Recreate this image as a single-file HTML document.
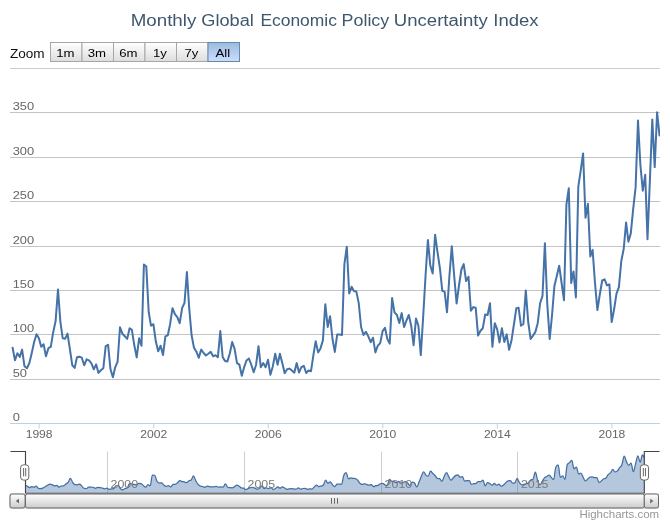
<!DOCTYPE html>
<html><head><meta charset="utf-8"><title>Monthly Global Economic Policy Uncertainty Index</title>
<style>html,body{margin:0;padding:0;background:#fff;}svg{display:block;will-change:transform;}</style></head>
<body>
<svg width="670" height="523" viewBox="0 0 670 523" font-family="Liberation Sans, sans-serif">
<defs>
<linearGradient id="gb" x1="0" y1="0" x2="0" y2="1"><stop offset="0" stop-color="#FFF"/><stop offset="1" stop-color="#DDD"/></linearGradient>
<linearGradient id="gs" x1="0" y1="0" x2="0" y2="1"><stop offset="0" stop-color="#9BD"/><stop offset="1" stop-color="#CDF"/></linearGradient>
<linearGradient id="gsb" x1="0" y1="0" x2="0" y2="1"><stop offset="0" stop-color="#FFF"/><stop offset="1" stop-color="#CCC"/></linearGradient>
<linearGradient id="gtr" x1="0" y1="0" x2="0" y2="1"><stop offset="0" stop-color="#EEE"/><stop offset="0.7" stop-color="#FFF"/></linearGradient>
<clipPath id="cp"><rect x="10" y="60" width="650" height="364"/></clipPath>
</defs>
<rect width="670" height="523" fill="#FFFFFF"/>
<path d="M10 68.5H660" stroke="#CDCDCD" stroke-width="1" fill="none"/>
<path d="M10 112.5H660" stroke="#C4C4C4" stroke-width="1" fill="none"/>
<path d="M10 157.5H660" stroke="#C4C4C4" stroke-width="1" fill="none"/>
<path d="M10 201.5H660" stroke="#C4C4C4" stroke-width="1" fill="none"/>
<path d="M10 246.5H660" stroke="#C4C4C4" stroke-width="1" fill="none"/>
<path d="M10 290.5H660" stroke="#C4C4C4" stroke-width="1" fill="none"/>
<path d="M10 334.5H660" stroke="#C4C4C4" stroke-width="1" fill="none"/>
<path d="M10 379.5H660" stroke="#C4C4C4" stroke-width="1" fill="none"/>
<path d="M10 423.5H660" stroke="#C0D0E0" stroke-width="1" fill="none"/>
<path d="M39.1 423.5V428.5" stroke="#C0D0E0" stroke-width="1" fill="none"/>
<text transform="translate(39.10,437.70) scale(1.1,1)" font-size="11" fill="#666" text-anchor="middle" >1998</text>
<path d="M153.7 423.5V428.5" stroke="#C0D0E0" stroke-width="1" fill="none"/>
<text transform="translate(153.66,437.70) scale(1.1,1)" font-size="11" fill="#666" text-anchor="middle" >2002</text>
<path d="M268.2 423.5V428.5" stroke="#C0D0E0" stroke-width="1" fill="none"/>
<text transform="translate(268.22,437.70) scale(1.1,1)" font-size="11" fill="#666" text-anchor="middle" >2006</text>
<path d="M382.8 423.5V428.5" stroke="#C0D0E0" stroke-width="1" fill="none"/>
<text transform="translate(382.78,437.70) scale(1.1,1)" font-size="11" fill="#666" text-anchor="middle" >2010</text>
<path d="M497.3 423.5V428.5" stroke="#C0D0E0" stroke-width="1" fill="none"/>
<text transform="translate(497.34,437.70) scale(1.1,1)" font-size="11" fill="#666" text-anchor="middle" >2014</text>
<path d="M611.9 423.5V428.5" stroke="#C0D0E0" stroke-width="1" fill="none"/>
<text transform="translate(611.90,437.70) scale(1.1,1)" font-size="11" fill="#666" text-anchor="middle" >2018</text>
<text transform="translate(12.70,110.20) scale(1.17,1)" font-size="11" fill="#666" text-anchor="start" >350</text>
<text transform="translate(12.70,155.20) scale(1.17,1)" font-size="11" fill="#666" text-anchor="start" >300</text>
<text transform="translate(12.70,199.20) scale(1.17,1)" font-size="11" fill="#666" text-anchor="start" >250</text>
<text transform="translate(12.70,244.20) scale(1.17,1)" font-size="11" fill="#666" text-anchor="start" >200</text>
<text transform="translate(12.70,288.20) scale(1.17,1)" font-size="11" fill="#666" text-anchor="start" >150</text>
<text transform="translate(12.70,332.20) scale(1.17,1)" font-size="11" fill="#666" text-anchor="start" >100</text>
<text transform="translate(12.70,377.20) scale(1.17,1)" font-size="11" fill="#666" text-anchor="start" >50</text>
<text transform="translate(12.70,421.20) scale(1.17,1)" font-size="11" fill="#666" text-anchor="start" >0</text>
<polyline points="12.6,347.8 15.0,360.3 17.4,353.2 19.8,356.9 22.1,349.6 24.5,366.3 26.9,368.3 29.3,363.3 31.7,353.2 34.1,342.2 36.5,334.2 38.9,338.2 41.2,346.8 43.6,344.2 46.0,356.2 48.4,348.2 50.8,346.8 53.2,332.2 55.6,321.1 58.0,289.4 60.3,321.1 62.7,338.2 65.1,338.8 67.5,333.6 69.9,349.2 72.3,365.3 74.7,367.9 77.0,357.3 79.4,356.7 81.8,357.7 84.2,365.3 86.6,359.3 89.0,360.3 91.4,363.3 93.8,369.3 96.1,364.3 98.5,372.9 100.9,370.3 103.3,368.3 105.7,346.2 108.1,344.8 110.5,369.3 112.9,377.3 115.2,367.3 117.6,361.6 120.0,327.3 122.4,333.7 124.8,336.3 127.2,338.9 129.6,328.3 131.9,329.9 134.3,345.3 136.7,357.4 139.1,338.3 141.5,345.7 143.9,264.6 146.3,266.6 148.7,312.2 151.0,325.7 153.4,324.2 155.8,341.3 158.2,351.3 160.6,345.7 163.0,355.0 165.4,336.3 167.8,335.3 170.1,324.2 172.5,308.2 174.9,314.2 177.3,317.2 179.7,323.2 182.1,308.2 184.5,302.8 186.9,272.1 189.2,308.2 191.6,335.3 194.0,347.7 196.4,351.7 198.8,357.8 201.2,349.6 203.6,353.0 205.9,355.5 208.3,353.8 210.7,351.8 213.1,356.3 215.5,355.2 217.9,357.2 220.3,331.1 222.7,357.2 225.0,360.9 227.4,361.4 229.8,353.5 232.2,342.0 234.6,348.8 237.0,363.1 239.4,364.7 241.8,375.7 244.1,367.3 246.5,360.5 248.9,358.5 251.3,364.7 253.7,372.3 256.1,364.7 258.5,346.2 260.8,367.3 263.2,363.1 265.6,367.3 268.0,359.7 270.4,374.8 272.8,366.4 275.2,353.8 277.6,364.7 279.9,353.8 282.3,363.1 284.7,373.2 287.1,369.3 289.5,368.6 291.9,370.6 294.3,372.7 296.7,363.1 299.0,372.5 301.4,367.1 303.8,365.8 306.2,373.0 308.6,370.4 311.0,371.2 313.4,355.1 315.7,341.2 318.1,352.4 320.5,348.4 322.9,340.4 325.3,304.2 327.7,327.0 330.1,316.3 332.5,339.0 334.8,351.9 337.2,334.5 339.6,334.5 342.0,335.0 344.4,264.1 346.8,246.7 349.2,293.5 351.6,286.8 353.9,290.9 356.3,291.4 358.7,302.9 361.1,327.0 363.5,335.0 365.9,331.8 368.3,336.4 370.7,342.2 373.0,337.7 375.4,352.4 377.8,345.7 380.2,343.1 382.6,331.1 385.0,327.8 387.4,339.1 389.7,343.6 392.1,298.1 394.5,312.3 396.9,315.0 399.3,323.0 401.7,313.1 404.1,327.0 406.5,320.3 408.8,315.0 411.2,325.7 413.6,345.2 416.0,318.5 418.4,325.7 420.8,355.1 423.2,316.3 425.6,274.8 427.9,240.0 430.3,265.5 432.7,273.5 435.1,234.7 437.5,252.1 439.9,268.1 442.3,290.9 444.6,291.7 447.0,312.3 449.4,276.2 451.8,246.2 454.2,276.2 456.6,303.5 459.0,285.5 461.4,269.5 463.7,264.1 466.1,281.0 468.5,276.7 470.9,310.8 473.3,307.1 475.7,307.8 478.1,335.6 480.5,330.7 482.8,328.2 485.2,314.5 487.6,315.0 490.0,303.3 492.4,346.8 494.8,323.2 497.2,329.4 499.5,342.4 501.9,328.2 504.3,341.9 506.7,334.4 509.1,349.8 511.5,340.6 513.9,324.5 516.3,308.3 518.6,307.8 521.0,325.7 523.4,324.0 525.8,290.4 528.2,322.0 530.6,338.9 533.0,335.6 535.4,331.9 537.7,323.2 540.1,303.3 542.5,295.9 544.9,243.2 547.3,304.6 549.7,338.9 552.1,314.5 554.4,285.9 556.8,276.0 559.2,265.7 561.6,283.0 564.0,300.2 566.4,204.7 568.8,188.2 571.2,283.0 573.5,271.4 575.9,297.4 578.3,186.6 580.7,170.7 583.1,153.4 585.5,217.8 587.9,203.8 590.3,256.5 592.6,249.9 595.0,283.0 597.4,310.1 599.8,294.5 602.2,280.5 604.6,279.3 607.0,285.4 609.4,284.3 611.7,322.1 614.1,309.3 616.5,293.6 618.9,287.1 621.3,261.0 623.7,249.0 626.1,222.4 628.4,241.7 630.8,233.4 633.2,208.8 635.6,187.4 638.0,120.6 640.4,165.0 642.8,190.7 645.2,174.8 647.5,239.2 649.9,180.0 652.3,119.4 654.7,167.1 657.1,112.3 659.5,135.4" fill="none" stroke="#4572A7" stroke-width="2" stroke-linejoin="round" stroke-linecap="round" clip-path="url(#cp)"/>
<text x="130.7" y="26.0" font-size="16" fill="#3E576F" textLength="65.6" lengthAdjust="spacingAndGlyphs">Monthly</text>
<text x="201.3" y="26.0" font-size="16" fill="#3E576F" textLength="52.5" lengthAdjust="spacingAndGlyphs">Global</text>
<text x="260.4" y="26.0" font-size="16" fill="#3E576F" textLength="76.5" lengthAdjust="spacingAndGlyphs">Economic</text>
<text x="341.6" y="26.0" font-size="16" fill="#3E576F" textLength="47.6" lengthAdjust="spacingAndGlyphs">Policy</text>
<text x="393.8" y="26.0" font-size="16" fill="#3E576F" textLength="93.9" lengthAdjust="spacingAndGlyphs">Uncertainty</text>
<text x="493.3" y="26.0" font-size="16" fill="#3E576F" textLength="45.3" lengthAdjust="spacingAndGlyphs">Index</text>
<text transform="translate(10.00,58.00) scale(1.13,1)" font-size="12" fill="#111" text-anchor="start" >Zoom</text>
<rect x="50.5" y="42.5" width="31.5" height="19" fill="url(#gb)" stroke="#A6A6A6" stroke-width="1"/>
<text transform="translate(65.35,56.70) scale(1.2,1)" font-size="11" fill="#000" text-anchor="middle" >1m</text>
<rect x="82.0" y="42.5" width="31.5" height="19" fill="url(#gb)" stroke="#A6A6A6" stroke-width="1"/>
<text transform="translate(96.85,56.70) scale(1.2,1)" font-size="11" fill="#000" text-anchor="middle" >3m</text>
<rect x="113.5" y="42.5" width="31.5" height="19" fill="url(#gb)" stroke="#A6A6A6" stroke-width="1"/>
<text transform="translate(128.35,56.70) scale(1.2,1)" font-size="11" fill="#000" text-anchor="middle" >6m</text>
<rect x="145.0" y="42.5" width="31.5" height="19" fill="url(#gb)" stroke="#A6A6A6" stroke-width="1"/>
<text transform="translate(159.85,56.70) scale(1.2,1)" font-size="11" fill="#000" text-anchor="middle" >1y</text>
<rect x="176.5" y="42.5" width="31.5" height="19" fill="url(#gb)" stroke="#A6A6A6" stroke-width="1"/>
<text transform="translate(191.35,56.70) scale(1.2,1)" font-size="11" fill="#000" text-anchor="middle" >7y</text>
<rect x="208.0" y="42.5" width="31.5" height="19" fill="url(#gs)" stroke="#68A" stroke-width="1"/>
<text transform="translate(222.85,56.70) scale(1.2,1)" font-size="11" fill="#000" text-anchor="middle" >All</text>
<path d="M107.5 451.5V493.4" stroke="#CFCFCF" stroke-width="1" fill="none"/>
<path d="M244.5 451.5V493.4" stroke="#CFCFCF" stroke-width="1" fill="none"/>
<path d="M381.5 451.5V493.4" stroke="#CFCFCF" stroke-width="1" fill="none"/>
<path d="M517.5 451.5V493.4" stroke="#CFCFCF" stroke-width="1" fill="none"/>
<path d="M25.90 493.4 L25.90 485.66 C25.90 485.66 26.62 485.69 27.10 485.96 C28.01 486.47 28.47 487.60 29.38 487.60 C30.29 487.60 30.75 486.67 31.66 486.67 C32.57 486.67 33.03 487.15 33.94 487.15 C34.85 487.15 35.30 486.20 36.22 486.20 C37.13 486.20 37.58 488.13 38.50 488.39 C39.41 488.66 39.86 488.66 40.77 488.66 C41.69 488.66 42.14 488.39 43.05 487.99 C43.96 487.60 44.42 487.23 45.33 486.67 C46.24 486.12 46.70 485.72 47.61 485.22 C48.52 484.72 48.98 484.16 49.89 484.16 C50.80 484.16 51.26 484.36 52.17 484.69 C53.08 485.02 53.54 485.83 54.45 485.83 C55.36 485.83 55.82 485.48 56.73 485.48 C57.64 485.48 58.09 487.07 59.01 487.07 C59.92 487.07 60.37 486.20 61.29 486.01 C62.20 485.83 62.65 486.01 63.56 485.83 C64.48 485.64 64.93 484.58 65.84 483.90 C66.75 483.22 67.21 483.57 68.12 482.44 C69.03 481.32 69.49 478.27 70.40 478.27 C71.31 478.27 71.77 481.16 72.68 482.44 C73.59 483.73 74.05 484.61 74.96 484.69 C75.87 484.77 76.33 484.77 77.24 484.77 C78.15 484.77 78.61 484.08 79.52 484.08 C80.43 484.08 80.88 485.31 81.80 486.14 C82.71 486.98 83.16 487.92 84.07 488.26 C84.99 488.60 85.44 488.60 86.35 488.60 C87.27 488.60 87.72 487.28 88.63 487.20 C89.54 487.12 90.00 487.12 90.91 487.12 C91.82 487.12 92.28 487.12 93.19 487.25 C94.10 487.39 94.56 488.26 95.47 488.26 C96.38 488.26 96.84 487.47 97.75 487.47 C98.66 487.47 99.12 487.49 100.03 487.60 C100.94 487.70 101.40 487.76 102.31 487.99 C103.22 488.23 103.67 488.79 104.59 488.79 C105.50 488.79 105.95 488.13 106.87 488.13 C107.78 488.13 108.23 489.26 109.14 489.26 C110.06 489.26 110.51 489.04 111.42 488.92 C112.33 488.80 112.79 488.92 113.70 488.66 C114.61 488.39 115.07 485.93 115.98 485.75 C116.89 485.56 117.35 485.56 118.26 485.56 C119.17 485.56 119.63 487.93 120.54 488.79 C121.45 489.64 121.91 489.85 122.82 489.85 C123.73 489.85 124.19 488.94 125.10 488.52 C126.01 488.11 126.46 488.52 127.38 487.77 C128.29 487.02 128.74 483.25 129.66 483.25 C130.57 483.25 131.02 483.86 131.93 484.10 C132.85 484.34 133.30 484.30 134.21 484.44 C135.12 484.58 135.58 484.79 136.49 484.79 C137.40 484.79 137.86 483.39 138.77 483.39 C139.68 483.39 140.14 483.39 141.05 483.60 C141.96 483.81 142.42 484.91 143.33 485.63 C144.24 486.36 144.70 487.22 145.61 487.22 C146.52 487.22 146.98 484.71 147.89 484.71 C148.80 484.71 149.25 485.68 150.17 485.68 C151.08 485.68 151.53 475.01 152.44 475.01 C153.36 475.01 153.81 475.01 154.72 475.27 C155.64 475.54 156.09 479.72 157.00 481.27 C157.91 482.82 158.37 483.04 159.28 483.04 C160.19 483.04 160.65 482.86 161.56 482.86 C162.47 482.86 162.93 484.39 163.84 485.10 C164.75 485.82 165.21 486.42 166.12 486.42 C167.03 486.42 167.49 485.68 168.40 485.68 C169.31 485.68 169.77 486.90 170.68 486.90 C171.59 486.90 172.04 484.57 172.96 484.44 C173.87 484.31 174.32 484.44 175.23 484.31 C176.15 484.18 176.60 483.57 177.51 482.86 C178.43 482.14 178.88 480.74 179.79 480.74 C180.70 480.74 181.16 481.30 182.07 481.53 C182.98 481.77 183.44 481.69 184.35 481.93 C185.26 482.17 185.72 482.72 186.63 482.72 C187.54 482.72 188.00 481.28 188.91 480.74 C189.82 480.20 190.28 480.74 191.19 480.03 C192.10 479.31 192.56 475.98 193.47 475.98 C194.38 475.98 194.83 479.08 195.75 480.74 C196.66 482.41 197.11 483.27 198.02 484.31 C198.94 485.35 199.39 485.52 200.30 485.95 C201.22 486.38 201.67 486.21 202.58 486.48 C203.49 486.74 203.95 487.27 204.86 487.27 C205.77 487.27 206.23 486.20 207.14 486.20 C208.05 486.20 208.51 486.48 209.42 486.64 C210.33 486.79 210.79 486.97 211.70 486.97 C212.61 486.97 213.07 486.85 213.98 486.75 C214.89 486.65 215.35 486.48 216.26 486.48 C217.17 486.48 217.62 487.08 218.54 487.08 C219.45 487.08 219.90 486.93 220.81 486.93 C221.73 486.93 222.18 487.19 223.09 487.19 C224.01 487.19 224.46 483.76 225.37 483.76 C226.28 483.76 226.74 486.71 227.65 487.19 C228.56 487.68 229.02 487.61 229.93 487.68 C230.84 487.75 231.30 487.75 232.21 487.75 C233.12 487.75 233.58 487.21 234.49 486.71 C235.40 486.20 235.86 485.20 236.77 485.20 C237.68 485.20 238.14 485.53 239.05 486.09 C239.96 486.64 240.41 487.75 241.33 487.97 C242.24 488.19 242.69 487.97 243.60 488.19 C244.52 488.41 244.97 489.63 245.88 489.63 C246.80 489.63 247.25 488.92 248.16 488.52 C249.07 488.12 249.53 487.87 250.44 487.64 C251.35 487.41 251.81 487.37 252.72 487.37 C253.63 487.37 254.09 487.83 255.00 488.19 C255.91 488.55 256.37 489.19 257.28 489.19 C258.19 489.19 258.65 488.88 259.56 488.19 C260.47 487.50 260.93 485.75 261.84 485.75 C262.75 485.75 263.20 488.52 264.12 488.52 C265.03 488.52 265.48 487.97 266.39 487.97 C267.31 487.97 267.76 488.52 268.67 488.52 C269.59 488.52 270.04 487.52 270.95 487.52 C271.86 487.52 272.32 489.52 273.23 489.52 C274.14 489.52 274.60 488.96 275.51 488.41 C276.42 487.86 276.88 486.75 277.79 486.75 C278.70 486.75 279.16 488.19 280.07 488.19 C280.98 488.19 281.44 486.75 282.35 486.75 C283.26 486.75 283.72 487.46 284.63 487.97 C285.54 488.48 285.99 489.30 286.91 489.30 C287.82 489.30 288.27 488.88 289.19 488.79 C290.10 488.70 290.55 488.70 291.46 488.70 C292.38 488.70 292.83 488.86 293.74 488.96 C294.65 489.07 295.11 489.23 296.02 489.23 C296.93 489.23 297.39 487.98 298.30 487.98 C299.21 487.98 299.67 489.21 300.58 489.21 C301.49 489.21 301.95 488.68 302.86 488.50 C303.77 488.33 304.23 488.33 305.14 488.33 C306.05 488.33 306.51 489.28 307.42 489.28 C308.33 489.28 308.78 488.93 309.70 488.93 C310.61 488.93 311.06 489.03 311.98 489.03 C312.89 489.03 313.34 487.71 314.25 486.92 C315.17 486.13 315.62 485.09 316.53 485.09 C317.44 485.09 317.90 486.57 318.81 486.57 C319.72 486.57 320.18 486.35 321.09 486.04 C322.00 485.72 322.46 486.04 323.37 484.98 C324.28 483.92 324.74 480.22 325.65 480.22 C326.56 480.22 327.02 483.22 327.93 483.22 C328.84 483.22 329.30 481.81 330.21 481.81 C331.12 481.81 331.57 483.87 332.49 484.80 C333.40 485.74 333.85 486.50 334.76 486.50 C335.68 486.50 336.13 484.20 337.04 484.20 C337.96 484.20 338.41 484.20 339.32 484.20 C340.23 484.20 340.69 484.27 341.60 484.27 C342.51 484.27 342.97 477.23 343.88 474.94 C344.79 472.64 345.25 472.64 346.16 472.64 C347.07 472.64 347.53 478.81 348.44 478.81 C349.35 478.81 349.81 477.93 350.72 477.93 C351.63 477.93 352.09 478.39 353.00 478.46 C353.91 478.53 354.36 478.46 355.28 478.53 C356.19 478.60 356.64 479.11 357.56 480.05 C358.47 480.98 358.92 482.37 359.83 483.22 C360.75 484.06 361.20 484.27 362.11 484.27 C363.02 484.27 363.48 483.85 364.39 483.85 C365.30 483.85 365.76 484.18 366.67 484.45 C367.58 484.73 368.04 485.23 368.95 485.23 C369.86 485.23 370.32 484.63 371.23 484.63 C372.14 484.63 372.60 486.57 373.51 486.57 C374.42 486.57 374.88 485.93 375.79 485.68 C376.70 485.44 377.15 485.68 378.07 485.34 C378.98 484.99 379.43 484.15 380.35 483.75 C381.26 483.35 381.71 483.33 382.62 483.33 C383.54 483.33 383.99 484.39 384.90 484.81 C385.81 485.23 386.27 485.41 387.18 485.41 C388.09 485.41 388.55 479.42 389.46 479.42 C390.37 479.42 390.83 480.93 391.74 481.29 C392.65 481.64 393.11 481.36 394.02 481.64 C394.93 481.92 395.39 482.69 396.30 482.69 C397.21 482.69 397.67 481.39 398.58 481.39 C399.49 481.39 399.94 483.22 400.86 483.22 C401.77 483.22 402.22 482.66 403.13 482.34 C404.05 482.03 404.50 481.64 405.41 481.64 C406.33 481.64 406.78 482.25 407.69 483.05 C408.60 483.84 409.06 485.62 409.97 485.62 C410.88 485.62 411.34 482.10 412.25 482.10 C413.16 482.10 413.62 482.10 414.53 483.05 C415.44 484.00 415.90 486.92 416.81 486.92 C417.72 486.92 418.18 483.93 419.09 481.81 C420.00 479.70 420.46 478.36 421.37 476.35 C422.28 474.34 422.73 471.77 423.65 471.77 C424.56 471.77 425.01 474.24 425.93 475.12 C426.84 476.00 427.29 476.17 428.20 476.17 C429.12 476.17 429.57 471.06 430.48 471.06 C431.39 471.06 431.85 472.47 432.76 473.36 C433.67 474.24 434.13 474.45 435.04 475.47 C435.95 476.49 436.41 478.36 437.32 478.47 C438.23 478.57 438.69 478.47 439.60 478.57 C440.51 478.68 440.97 481.29 441.88 481.29 C442.79 481.29 443.25 478.27 444.16 476.53 C445.07 474.79 445.52 472.58 446.44 472.58 C447.35 472.58 447.80 475.02 448.72 476.53 C449.63 478.04 450.08 480.12 450.99 480.12 C451.91 480.12 452.36 478.66 453.27 477.76 C454.18 476.87 454.64 476.21 455.55 475.65 C456.46 475.08 456.92 474.94 457.83 474.94 C458.74 474.94 459.20 477.16 460.11 477.16 C461.02 477.16 461.48 476.60 462.39 476.60 C463.30 476.60 463.76 481.08 464.67 481.08 C465.58 481.08 466.04 480.59 466.95 480.59 C467.86 480.59 468.31 480.59 469.23 480.69 C470.14 480.79 470.59 484.36 471.50 484.36 C472.42 484.36 472.87 483.90 473.78 483.70 C474.70 483.51 475.15 483.70 476.06 483.37 C476.97 483.05 477.43 481.57 478.34 481.57 C479.25 481.57 479.71 481.64 480.62 481.64 C481.53 481.64 481.99 480.10 482.90 480.10 C483.81 480.10 484.27 485.83 485.18 485.83 C486.09 485.83 486.55 482.72 487.46 482.72 C488.37 482.72 488.83 483.03 489.74 483.54 C490.65 484.04 491.10 485.24 492.02 485.24 C492.93 485.24 493.38 483.37 494.30 483.37 C495.21 483.37 495.66 485.17 496.57 485.17 C497.49 485.17 497.94 484.19 498.85 484.19 C499.76 484.19 500.22 486.22 501.13 486.22 C502.04 486.22 502.50 485.68 503.41 485.01 C504.32 484.34 504.78 483.73 505.69 482.88 C506.60 482.03 507.06 480.82 507.97 480.76 C508.88 480.69 509.34 480.69 510.25 480.69 C511.16 480.69 511.62 483.05 512.53 483.05 C513.44 483.05 513.89 483.05 514.81 482.82 C515.72 482.59 516.17 478.40 517.08 478.40 C518.00 478.40 518.45 481.28 519.36 482.56 C520.28 483.83 520.73 484.78 521.64 484.78 C522.55 484.78 523.01 484.54 523.92 484.36 C524.83 484.17 525.29 484.19 526.20 483.87 C527.11 483.54 527.57 483.47 528.48 482.72 C529.39 481.97 529.85 480.82 530.76 480.10 C531.67 479.38 532.13 480.10 533.04 479.12 C533.95 478.14 534.41 472.18 535.32 472.18 C536.23 472.18 536.68 477.75 537.60 480.27 C538.51 482.79 538.96 484.78 539.88 484.78 C540.79 484.78 541.24 482.97 542.15 481.57 C543.07 480.18 543.52 478.83 544.43 477.81 C545.34 476.80 545.80 477.03 546.71 476.50 C547.62 475.97 548.08 475.15 548.99 475.15 C549.90 475.15 550.36 476.52 551.27 477.43 C552.18 478.33 552.64 479.69 553.55 479.69 C554.46 479.69 554.92 469.29 555.83 467.12 C556.74 464.94 557.20 464.94 558.11 464.94 C559.02 464.94 559.47 477.43 560.39 477.43 C561.30 477.43 561.75 475.90 562.66 475.90 C563.58 475.90 564.03 479.32 564.94 479.32 C565.86 479.32 566.31 466.83 567.22 464.73 C568.13 462.64 568.59 463.51 569.50 462.64 C570.41 461.76 570.87 460.36 571.78 460.36 C572.69 460.36 573.15 468.84 574.06 468.84 C574.97 468.84 575.43 467.00 576.34 467.00 C577.25 467.00 577.71 473.94 578.62 473.94 C579.53 473.94 579.99 473.07 580.90 473.07 C581.81 473.07 582.26 475.84 583.18 477.43 C584.09 479.01 584.54 480.99 585.46 480.99 C586.37 480.99 586.82 479.72 587.73 478.94 C588.65 478.16 589.10 477.25 590.01 477.10 C590.92 476.94 591.38 476.94 592.29 476.94 C593.20 476.94 593.66 477.74 594.57 477.74 C595.48 477.74 595.94 477.60 596.85 477.60 C597.76 477.60 598.22 482.57 599.13 482.57 C600.04 482.57 600.50 481.64 601.41 480.89 C602.32 480.14 602.78 479.41 603.69 478.82 C604.60 478.24 605.05 478.82 605.97 477.96 C606.88 477.11 607.33 475.53 608.25 474.53 C609.16 473.52 609.61 473.96 610.52 472.95 C611.44 471.93 611.89 469.45 612.80 469.45 C613.71 469.45 614.17 471.99 615.08 471.99 C615.99 471.99 616.45 471.76 617.36 470.89 C618.27 470.03 618.73 468.87 619.64 467.66 C620.55 466.44 621.01 467.16 621.92 464.84 C622.83 462.51 623.29 456.04 624.20 456.04 C625.11 456.04 625.57 460.04 626.48 461.89 C627.39 463.73 627.84 465.27 628.76 465.27 C629.67 465.27 630.12 463.18 631.03 463.18 C631.95 463.18 632.40 471.66 633.31 471.66 C634.23 471.66 634.68 467.02 635.59 463.86 C636.50 460.71 636.96 455.88 637.87 455.88 C638.78 455.88 639.24 462.16 640.15 462.16 C641.06 462.16 641.52 454.95 642.43 454.95 C643.18 454.95 644.30 457.99 644.30 457.99 L644.30 493.4 Z" fill="#4572A7" fill-opacity="0.4" stroke="none"/>
<path d="M25.90 485.66 C25.90 485.66 26.62 485.69 27.10 485.96 C28.01 486.47 28.47 487.60 29.38 487.60 C30.29 487.60 30.75 486.67 31.66 486.67 C32.57 486.67 33.03 487.15 33.94 487.15 C34.85 487.15 35.30 486.20 36.22 486.20 C37.13 486.20 37.58 488.13 38.50 488.39 C39.41 488.66 39.86 488.66 40.77 488.66 C41.69 488.66 42.14 488.39 43.05 487.99 C43.96 487.60 44.42 487.23 45.33 486.67 C46.24 486.12 46.70 485.72 47.61 485.22 C48.52 484.72 48.98 484.16 49.89 484.16 C50.80 484.16 51.26 484.36 52.17 484.69 C53.08 485.02 53.54 485.83 54.45 485.83 C55.36 485.83 55.82 485.48 56.73 485.48 C57.64 485.48 58.09 487.07 59.01 487.07 C59.92 487.07 60.37 486.20 61.29 486.01 C62.20 485.83 62.65 486.01 63.56 485.83 C64.48 485.64 64.93 484.58 65.84 483.90 C66.75 483.22 67.21 483.57 68.12 482.44 C69.03 481.32 69.49 478.27 70.40 478.27 C71.31 478.27 71.77 481.16 72.68 482.44 C73.59 483.73 74.05 484.61 74.96 484.69 C75.87 484.77 76.33 484.77 77.24 484.77 C78.15 484.77 78.61 484.08 79.52 484.08 C80.43 484.08 80.88 485.31 81.80 486.14 C82.71 486.98 83.16 487.92 84.07 488.26 C84.99 488.60 85.44 488.60 86.35 488.60 C87.27 488.60 87.72 487.28 88.63 487.20 C89.54 487.12 90.00 487.12 90.91 487.12 C91.82 487.12 92.28 487.12 93.19 487.25 C94.10 487.39 94.56 488.26 95.47 488.26 C96.38 488.26 96.84 487.47 97.75 487.47 C98.66 487.47 99.12 487.49 100.03 487.60 C100.94 487.70 101.40 487.76 102.31 487.99 C103.22 488.23 103.67 488.79 104.59 488.79 C105.50 488.79 105.95 488.13 106.87 488.13 C107.78 488.13 108.23 489.26 109.14 489.26 C110.06 489.26 110.51 489.04 111.42 488.92 C112.33 488.80 112.79 488.92 113.70 488.66 C114.61 488.39 115.07 485.93 115.98 485.75 C116.89 485.56 117.35 485.56 118.26 485.56 C119.17 485.56 119.63 487.93 120.54 488.79 C121.45 489.64 121.91 489.85 122.82 489.85 C123.73 489.85 124.19 488.94 125.10 488.52 C126.01 488.11 126.46 488.52 127.38 487.77 C128.29 487.02 128.74 483.25 129.66 483.25 C130.57 483.25 131.02 483.86 131.93 484.10 C132.85 484.34 133.30 484.30 134.21 484.44 C135.12 484.58 135.58 484.79 136.49 484.79 C137.40 484.79 137.86 483.39 138.77 483.39 C139.68 483.39 140.14 483.39 141.05 483.60 C141.96 483.81 142.42 484.91 143.33 485.63 C144.24 486.36 144.70 487.22 145.61 487.22 C146.52 487.22 146.98 484.71 147.89 484.71 C148.80 484.71 149.25 485.68 150.17 485.68 C151.08 485.68 151.53 475.01 152.44 475.01 C153.36 475.01 153.81 475.01 154.72 475.27 C155.64 475.54 156.09 479.72 157.00 481.27 C157.91 482.82 158.37 483.04 159.28 483.04 C160.19 483.04 160.65 482.86 161.56 482.86 C162.47 482.86 162.93 484.39 163.84 485.10 C164.75 485.82 165.21 486.42 166.12 486.42 C167.03 486.42 167.49 485.68 168.40 485.68 C169.31 485.68 169.77 486.90 170.68 486.90 C171.59 486.90 172.04 484.57 172.96 484.44 C173.87 484.31 174.32 484.44 175.23 484.31 C176.15 484.18 176.60 483.57 177.51 482.86 C178.43 482.14 178.88 480.74 179.79 480.74 C180.70 480.74 181.16 481.30 182.07 481.53 C182.98 481.77 183.44 481.69 184.35 481.93 C185.26 482.17 185.72 482.72 186.63 482.72 C187.54 482.72 188.00 481.28 188.91 480.74 C189.82 480.20 190.28 480.74 191.19 480.03 C192.10 479.31 192.56 475.98 193.47 475.98 C194.38 475.98 194.83 479.08 195.75 480.74 C196.66 482.41 197.11 483.27 198.02 484.31 C198.94 485.35 199.39 485.52 200.30 485.95 C201.22 486.38 201.67 486.21 202.58 486.48 C203.49 486.74 203.95 487.27 204.86 487.27 C205.77 487.27 206.23 486.20 207.14 486.20 C208.05 486.20 208.51 486.48 209.42 486.64 C210.33 486.79 210.79 486.97 211.70 486.97 C212.61 486.97 213.07 486.85 213.98 486.75 C214.89 486.65 215.35 486.48 216.26 486.48 C217.17 486.48 217.62 487.08 218.54 487.08 C219.45 487.08 219.90 486.93 220.81 486.93 C221.73 486.93 222.18 487.19 223.09 487.19 C224.01 487.19 224.46 483.76 225.37 483.76 C226.28 483.76 226.74 486.71 227.65 487.19 C228.56 487.68 229.02 487.61 229.93 487.68 C230.84 487.75 231.30 487.75 232.21 487.75 C233.12 487.75 233.58 487.21 234.49 486.71 C235.40 486.20 235.86 485.20 236.77 485.20 C237.68 485.20 238.14 485.53 239.05 486.09 C239.96 486.64 240.41 487.75 241.33 487.97 C242.24 488.19 242.69 487.97 243.60 488.19 C244.52 488.41 244.97 489.63 245.88 489.63 C246.80 489.63 247.25 488.92 248.16 488.52 C249.07 488.12 249.53 487.87 250.44 487.64 C251.35 487.41 251.81 487.37 252.72 487.37 C253.63 487.37 254.09 487.83 255.00 488.19 C255.91 488.55 256.37 489.19 257.28 489.19 C258.19 489.19 258.65 488.88 259.56 488.19 C260.47 487.50 260.93 485.75 261.84 485.75 C262.75 485.75 263.20 488.52 264.12 488.52 C265.03 488.52 265.48 487.97 266.39 487.97 C267.31 487.97 267.76 488.52 268.67 488.52 C269.59 488.52 270.04 487.52 270.95 487.52 C271.86 487.52 272.32 489.52 273.23 489.52 C274.14 489.52 274.60 488.96 275.51 488.41 C276.42 487.86 276.88 486.75 277.79 486.75 C278.70 486.75 279.16 488.19 280.07 488.19 C280.98 488.19 281.44 486.75 282.35 486.75 C283.26 486.75 283.72 487.46 284.63 487.97 C285.54 488.48 285.99 489.30 286.91 489.30 C287.82 489.30 288.27 488.88 289.19 488.79 C290.10 488.70 290.55 488.70 291.46 488.70 C292.38 488.70 292.83 488.86 293.74 488.96 C294.65 489.07 295.11 489.23 296.02 489.23 C296.93 489.23 297.39 487.98 298.30 487.98 C299.21 487.98 299.67 489.21 300.58 489.21 C301.49 489.21 301.95 488.68 302.86 488.50 C303.77 488.33 304.23 488.33 305.14 488.33 C306.05 488.33 306.51 489.28 307.42 489.28 C308.33 489.28 308.78 488.93 309.70 488.93 C310.61 488.93 311.06 489.03 311.98 489.03 C312.89 489.03 313.34 487.71 314.25 486.92 C315.17 486.13 315.62 485.09 316.53 485.09 C317.44 485.09 317.90 486.57 318.81 486.57 C319.72 486.57 320.18 486.35 321.09 486.04 C322.00 485.72 322.46 486.04 323.37 484.98 C324.28 483.92 324.74 480.22 325.65 480.22 C326.56 480.22 327.02 483.22 327.93 483.22 C328.84 483.22 329.30 481.81 330.21 481.81 C331.12 481.81 331.57 483.87 332.49 484.80 C333.40 485.74 333.85 486.50 334.76 486.50 C335.68 486.50 336.13 484.20 337.04 484.20 C337.96 484.20 338.41 484.20 339.32 484.20 C340.23 484.20 340.69 484.27 341.60 484.27 C342.51 484.27 342.97 477.23 343.88 474.94 C344.79 472.64 345.25 472.64 346.16 472.64 C347.07 472.64 347.53 478.81 348.44 478.81 C349.35 478.81 349.81 477.93 350.72 477.93 C351.63 477.93 352.09 478.39 353.00 478.46 C353.91 478.53 354.36 478.46 355.28 478.53 C356.19 478.60 356.64 479.11 357.56 480.05 C358.47 480.98 358.92 482.37 359.83 483.22 C360.75 484.06 361.20 484.27 362.11 484.27 C363.02 484.27 363.48 483.85 364.39 483.85 C365.30 483.85 365.76 484.18 366.67 484.45 C367.58 484.73 368.04 485.23 368.95 485.23 C369.86 485.23 370.32 484.63 371.23 484.63 C372.14 484.63 372.60 486.57 373.51 486.57 C374.42 486.57 374.88 485.93 375.79 485.68 C376.70 485.44 377.15 485.68 378.07 485.34 C378.98 484.99 379.43 484.15 380.35 483.75 C381.26 483.35 381.71 483.33 382.62 483.33 C383.54 483.33 383.99 484.39 384.90 484.81 C385.81 485.23 386.27 485.41 387.18 485.41 C388.09 485.41 388.55 479.42 389.46 479.42 C390.37 479.42 390.83 480.93 391.74 481.29 C392.65 481.64 393.11 481.36 394.02 481.64 C394.93 481.92 395.39 482.69 396.30 482.69 C397.21 482.69 397.67 481.39 398.58 481.39 C399.49 481.39 399.94 483.22 400.86 483.22 C401.77 483.22 402.22 482.66 403.13 482.34 C404.05 482.03 404.50 481.64 405.41 481.64 C406.33 481.64 406.78 482.25 407.69 483.05 C408.60 483.84 409.06 485.62 409.97 485.62 C410.88 485.62 411.34 482.10 412.25 482.10 C413.16 482.10 413.62 482.10 414.53 483.05 C415.44 484.00 415.90 486.92 416.81 486.92 C417.72 486.92 418.18 483.93 419.09 481.81 C420.00 479.70 420.46 478.36 421.37 476.35 C422.28 474.34 422.73 471.77 423.65 471.77 C424.56 471.77 425.01 474.24 425.93 475.12 C426.84 476.00 427.29 476.17 428.20 476.17 C429.12 476.17 429.57 471.06 430.48 471.06 C431.39 471.06 431.85 472.47 432.76 473.36 C433.67 474.24 434.13 474.45 435.04 475.47 C435.95 476.49 436.41 478.36 437.32 478.47 C438.23 478.57 438.69 478.47 439.60 478.57 C440.51 478.68 440.97 481.29 441.88 481.29 C442.79 481.29 443.25 478.27 444.16 476.53 C445.07 474.79 445.52 472.58 446.44 472.58 C447.35 472.58 447.80 475.02 448.72 476.53 C449.63 478.04 450.08 480.12 450.99 480.12 C451.91 480.12 452.36 478.66 453.27 477.76 C454.18 476.87 454.64 476.21 455.55 475.65 C456.46 475.08 456.92 474.94 457.83 474.94 C458.74 474.94 459.20 477.16 460.11 477.16 C461.02 477.16 461.48 476.60 462.39 476.60 C463.30 476.60 463.76 481.08 464.67 481.08 C465.58 481.08 466.04 480.59 466.95 480.59 C467.86 480.59 468.31 480.59 469.23 480.69 C470.14 480.79 470.59 484.36 471.50 484.36 C472.42 484.36 472.87 483.90 473.78 483.70 C474.70 483.51 475.15 483.70 476.06 483.37 C476.97 483.05 477.43 481.57 478.34 481.57 C479.25 481.57 479.71 481.64 480.62 481.64 C481.53 481.64 481.99 480.10 482.90 480.10 C483.81 480.10 484.27 485.83 485.18 485.83 C486.09 485.83 486.55 482.72 487.46 482.72 C488.37 482.72 488.83 483.03 489.74 483.54 C490.65 484.04 491.10 485.24 492.02 485.24 C492.93 485.24 493.38 483.37 494.30 483.37 C495.21 483.37 495.66 485.17 496.57 485.17 C497.49 485.17 497.94 484.19 498.85 484.19 C499.76 484.19 500.22 486.22 501.13 486.22 C502.04 486.22 502.50 485.68 503.41 485.01 C504.32 484.34 504.78 483.73 505.69 482.88 C506.60 482.03 507.06 480.82 507.97 480.76 C508.88 480.69 509.34 480.69 510.25 480.69 C511.16 480.69 511.62 483.05 512.53 483.05 C513.44 483.05 513.89 483.05 514.81 482.82 C515.72 482.59 516.17 478.40 517.08 478.40 C518.00 478.40 518.45 481.28 519.36 482.56 C520.28 483.83 520.73 484.78 521.64 484.78 C522.55 484.78 523.01 484.54 523.92 484.36 C524.83 484.17 525.29 484.19 526.20 483.87 C527.11 483.54 527.57 483.47 528.48 482.72 C529.39 481.97 529.85 480.82 530.76 480.10 C531.67 479.38 532.13 480.10 533.04 479.12 C533.95 478.14 534.41 472.18 535.32 472.18 C536.23 472.18 536.68 477.75 537.60 480.27 C538.51 482.79 538.96 484.78 539.88 484.78 C540.79 484.78 541.24 482.97 542.15 481.57 C543.07 480.18 543.52 478.83 544.43 477.81 C545.34 476.80 545.80 477.03 546.71 476.50 C547.62 475.97 548.08 475.15 548.99 475.15 C549.90 475.15 550.36 476.52 551.27 477.43 C552.18 478.33 552.64 479.69 553.55 479.69 C554.46 479.69 554.92 469.29 555.83 467.12 C556.74 464.94 557.20 464.94 558.11 464.94 C559.02 464.94 559.47 477.43 560.39 477.43 C561.30 477.43 561.75 475.90 562.66 475.90 C563.58 475.90 564.03 479.32 564.94 479.32 C565.86 479.32 566.31 466.83 567.22 464.73 C568.13 462.64 568.59 463.51 569.50 462.64 C570.41 461.76 570.87 460.36 571.78 460.36 C572.69 460.36 573.15 468.84 574.06 468.84 C574.97 468.84 575.43 467.00 576.34 467.00 C577.25 467.00 577.71 473.94 578.62 473.94 C579.53 473.94 579.99 473.07 580.90 473.07 C581.81 473.07 582.26 475.84 583.18 477.43 C584.09 479.01 584.54 480.99 585.46 480.99 C586.37 480.99 586.82 479.72 587.73 478.94 C588.65 478.16 589.10 477.25 590.01 477.10 C590.92 476.94 591.38 476.94 592.29 476.94 C593.20 476.94 593.66 477.74 594.57 477.74 C595.48 477.74 595.94 477.60 596.85 477.60 C597.76 477.60 598.22 482.57 599.13 482.57 C600.04 482.57 600.50 481.64 601.41 480.89 C602.32 480.14 602.78 479.41 603.69 478.82 C604.60 478.24 605.05 478.82 605.97 477.96 C606.88 477.11 607.33 475.53 608.25 474.53 C609.16 473.52 609.61 473.96 610.52 472.95 C611.44 471.93 611.89 469.45 612.80 469.45 C613.71 469.45 614.17 471.99 615.08 471.99 C615.99 471.99 616.45 471.76 617.36 470.89 C618.27 470.03 618.73 468.87 619.64 467.66 C620.55 466.44 621.01 467.16 621.92 464.84 C622.83 462.51 623.29 456.04 624.20 456.04 C625.11 456.04 625.57 460.04 626.48 461.89 C627.39 463.73 627.84 465.27 628.76 465.27 C629.67 465.27 630.12 463.18 631.03 463.18 C631.95 463.18 632.40 471.66 633.31 471.66 C634.23 471.66 634.68 467.02 635.59 463.86 C636.50 460.71 636.96 455.88 637.87 455.88 C638.78 455.88 639.24 462.16 640.15 462.16 C641.06 462.16 641.52 454.95 642.43 454.95 C643.18 454.95 644.30 457.99 644.30 457.99" fill="none" stroke="#426EA2" stroke-width="1.25" stroke-linejoin="round"/>
<text transform="translate(110.50,488.30) scale(1.13,1)" font-size="11" fill="#7A7A7A" text-anchor="start" >2000</text>
<text transform="translate(247.55,488.30) scale(1.13,1)" font-size="11" fill="#7A7A7A" text-anchor="start" >2005</text>
<text transform="translate(384.60,488.30) scale(1.13,1)" font-size="11" fill="#7A7A7A" text-anchor="start" >2010</text>
<text transform="translate(520.90,488.30) scale(1.13,1)" font-size="11" fill="#7A7A7A" text-anchor="start" >2015</text>
<path d="M10.5 451.5H25.5V493.4H644.3V451.5H659.5" fill="none" stroke="#444" stroke-width="1.15"/>
<rect x="10" y="494.0" width="648.5" height="14.0" fill="url(#gtr)" stroke="#CCC" stroke-width="1"/>
<rect x="25.5" y="494.0" width="618.8" height="14.0" rx="2" fill="url(#gsb)" stroke="#666" stroke-width="1"/>
<path d="M331.5 498.0v5.7M334.5 498.0v5.7M337.5 498.0v5.7" stroke="#666" stroke-width="1" fill="none"/>
<rect x="10" y="494.0" width="15.1" height="14.0" rx="2.2" fill="url(#gsb)" stroke="#666" stroke-width="1"/>
<rect x="644.3" y="494.0" width="14.2" height="14.0" rx="2.2" fill="url(#gsb)" stroke="#666" stroke-width="1"/>
<path d="M18.9 498.7L19.1 503.5L15.8 501.1Z" fill="#666"/>
<path d="M650.3 498.7L650.1 503.5L653.4 501.1Z" fill="#666"/>
<rect x="20.60" y="464.8" width="8.2" height="15.3" rx="3" fill="#FFF" stroke="#666" stroke-width="1"/>
<path d="M23.60 468V476.3M25.70 468V476.3" stroke="#666" stroke-width="1" fill="none"/>
<rect x="640.35" y="464.8" width="8.2" height="15.3" rx="3" fill="#FFF" stroke="#666" stroke-width="1"/>
<path d="M643.35 468V476.3M645.45 468V476.3" stroke="#666" stroke-width="1" fill="none"/>
<text transform="translate(659.20,518.30) scale(1.15,1)" font-size="10" fill="#969696" text-anchor="end" >Highcharts.com</text>
</svg>
</body></html>
